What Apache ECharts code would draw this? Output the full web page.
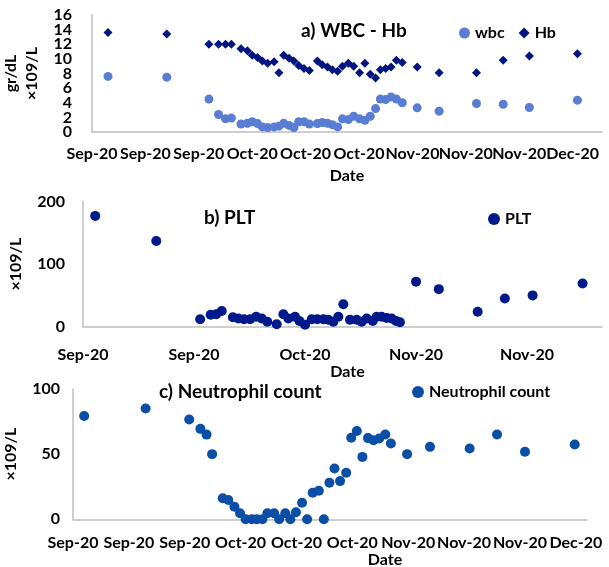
<!DOCTYPE html>
<html>
<head>
<meta charset="utf-8">
<script src="https://cdn.jsdelivr.net/npm/echarts@6/dist/echarts.min.js"></script>
<style>
html,body{margin:0;padding:0;background:#fff;}
#chart{width:609px;height:567px;}
</style>
</head>
<body>
<div id="chart"></div>
<script>
// Days since axis start (first tick), panel a
const daysA = [3,14,21.9,23.7,25,26.1,27.9,29.1,30,31,31.9,32.9,34.1,35,35.9,36.9,37.8,38.7,39.7,40.7,42.2,43.1,44.1,45,46,46.9,48,49,50.1,51.1,52.1,53.1,54,55,56,57,58.1,60.9,65,72,77,81.9,90.9];
const wbc = [7.6,7.5,4.5,2.4,1.8,1.9,1.1,1.2,1.4,1.15,0.7,0.6,0.7,0.8,1.2,0.9,0.6,1.4,1.4,1.1,1.15,1.3,1.2,1.0,0.7,1.8,1.7,2.15,1.8,1.6,2.15,3.2,4.5,4.45,4.8,4.5,4.0,3.3,2.85,3.9,3.8,3.35,4.35];
const hb = [13.6,13.4,12.0,12.0,12.0,12.0,11.4,11.1,10.5,10.2,9.7,9.4,9.6,8.1,10.5,10.1,9.7,9.1,8.7,8.4,9.7,9.2,8.9,8.5,8.3,9.0,9.4,9.0,8.1,9.4,7.9,7.4,8.5,8.7,8.9,9.8,9.5,8.9,8.1,8.1,9.8,10.4,10.7];

// panel b
const daysB = [2.2,13.2,21.1,23,24,25,27,28,29,30.1,31.2,32.2,33.2,34.9,36.1,37,38.2,39,40,41.2,42.2,43.3,44.2,45.1,46,46.9,48.1,49.3,50.2,51.1,52.2,52.9,53.8,54.7,55.6,56.4,57.1,60,64.1,71.1,76,81,90];
const plt = [177,137,12,19,20,25,15,13,12,12,16,13,8,4,20,13,16,9,3,12,12,12,11,8,16,36,11,11,8,13,9,16,16,14,13,9,7,72,60,24,45,50,69];

// panel c
const daysC = [2.0,13.0,20.8,22.8,23.9,24.9,26.8,27.8,28.9,29.9,30.9,32,32.9,33.9,34.8,36,36.9,38,38.9,39.9,41,41.9,42.9,44,44.9,45.9,46.8,47.8,48.9,49.8,50.8,51.8,52.8,53.8,54.8,55.9,56.9,59.8,63.9,71,75.9,80.9,89.8];
const neut = [79.3,85,76.6,69.4,65,50,16.1,14.8,9.6,4.6,0,0,0,0,4.6,4.6,0,4.6,0,5.4,12.7,0,20.4,21.9,0,28,39,29.3,35.7,62.6,67.8,47.9,62.3,60.7,62,65.1,58.2,50,55.6,54.4,65.1,51.8,57.4];

// tick labels
const ticksA = ['Sep-20','Sep-20','Sep-20','Oct-20','Oct-20','Oct-20','Nov-20','Nov-20','Nov-20','Dec-20'];
const ticksB = ['Sep-20','Sep-20','Oct-20','Nov-20','Nov-20'];
const ticksC = ['Sep-20','Sep-20','Sep-20','Oct-20','Oct-20','Oct-20','Nov-20','Nov-20','Nov-20','Dec-20'];

const FONT = 'Lato';
const pair = (xs, ys) => xs.map((x, i) => [x, ys[i]]);
const axisLine = {show: true, lineStyle: {color: '#bfbfbf', width: 1.5}};
const tickFmt = (labels, step) => v => {
  const i = Math.round(v / step);
  return Math.abs(v - i * step) < 1e-6 && labels[i] ? labels[i] : '';
};
const lblStyle = {fontFamily: FONT, fontWeight: 'bold', fontSize: 16, color: '#000'};

function xAxisDef(gi, max, step, labels, margin, gap, pad) {
  return {
    type: 'value', gridIndex: gi, min: 0, max: max, interval: step,
    axisLine: axisLine, axisTick: {show: false}, splitLine: {show: false},
    axisLabel: Object.assign({margin: margin, formatter: tickFmt(labels, step), showMaxLabel: false, hideOverlap: false}, lblStyle),
    name: 'Date', nameLocation: 'middle', nameGap: gap,
    nameTextStyle: Object.assign({padding: pad || 0}, lblStyle)
  };
}
function yAxisDef(gi, max, step, margin, name, gap, inner) {
  return {
    type: 'value', gridIndex: gi, min: 0, max: max, interval: step, position: 'left', offset: 0,
    axisLine: axisLine, axisTick: {show: false}, splitLine: {show: false},
    axisLabel: Object.assign({margin: margin, showMinLabel: !inner, showMaxLabel: !inner, hideOverlap: false}, lblStyle),
    name: name, nameLocation: 'middle', nameGap: gap, nameRotate: 90,
    nameTextStyle: Object.assign({lineHeight: 21}, lblStyle)
  };
}
const gridBase = {containLabel: false, outerBoundsMode: 'none'};

const chart = echarts.init(document.getElementById('chart'), null, {renderer: 'canvas'});
chart.setOption({
  animation: false,
  backgroundColor: '#fff',
  textStyle: {fontFamily: FONT},
  title: [
    {text: 'a) WBC - Hb', left: 296, top: 16, textStyle: {fontFamily: FONT, fontWeight: 'bold', fontSize: 19, color: '#000'}},
    {text: 'b) PLT', left: 199, top: 203, textStyle: {fontFamily: FONT, fontWeight: 'bold', fontSize: 19, color: '#000'}},
    {text: 'c) Neutrophil count', left: 154, top: 377, textStyle: {fontFamily: FONT, fontWeight: 'bold', fontSize: 19, color: '#000'}}
  ],
  legend: [
    {data: ['wbc', 'Hb'], left: 454, top: 20, itemWidth: 11, itemHeight: 11, itemGap: 14,
     textStyle: {fontFamily: FONT, fontWeight: 'bold', fontSize: 16, color: '#000'}},
    {data: ['PLT'], left: 483, top: 206, itemWidth: 12, itemHeight: 12,
     textStyle: {fontFamily: FONT, fontWeight: 'bold', fontSize: 16, color: '#000'}},
    {data: ['Neutrophil count'], left: 407, top: 379, itemWidth: 12, itemHeight: 12,
     textStyle: {fontFamily: FONT, fontWeight: 'bold', fontSize: 16, color: '#000'}}
  ],
  grid: [
    Object.assign({left: 92, top: 15, width: 510, height: 117}, gridBase),
    Object.assign({left: 83, top: 201.5, width: 519, height: 125.2}, gridBase),
    Object.assign({left: 73, top: 389, width: 514, height: 130.3}, gridBase)
  ],
  xAxis: [
    xAxisDef(0, 95.5, 10, ticksA, 14, 36),
    xAxisDef(1, 93.5, 20, ticksB, 20, 32, [0, 0, 0, 10]),
    xAxisDef(2, 92, 10, ticksC, 16, 33, [0, 0, 0, 110])
  ],
  yAxis: [
    yAxisDef(0, 16, 2, 20, 'gr/dL\n×109/L', 16, true),
    yAxisDef(1, 200, 100, 18, '×109/L', 36),
    yAxisDef(2, 100, 50, 13, '×109/L', 25),
    // end labels (0 and 16) of panel a, drawn by a companion axis to avoid overlap hiding
    Object.assign(yAxisDef(0, 16, 16, 20, '', 0), {axisLine: {show: false}})
  ],
  series: [
    {name: 'wbc', type: 'scatter', xAxisIndex: 0, yAxisIndex: 0, symbol: 'circle', symbolSize: 9,
     itemStyle: {color: '#5a7dd4', opacity: 1}, data: pair(daysA, wbc)},
    {name: 'Hb', type: 'scatter', xAxisIndex: 0, yAxisIndex: 0, symbol: 'diamond', symbolSize: [9, 9],
     itemStyle: {color: '#001580', opacity: 1}, data: pair(daysA, hb)},
    {name: 'PLT', type: 'scatter', xAxisIndex: 1, yAxisIndex: 1, symbol: 'circle', symbolSize: 10,
     itemStyle: {color: '#001a8c', opacity: 1}, data: pair(daysB, plt)},
    {name: 'Neutrophil count', type: 'scatter', xAxisIndex: 2, yAxisIndex: 2, symbol: 'circle', symbolSize: 10,
     itemStyle: {color: '#0a4ea6', opacity: 1}, data: pair(daysC, neut)}
  ]
});
</script>
</body>
</html>
